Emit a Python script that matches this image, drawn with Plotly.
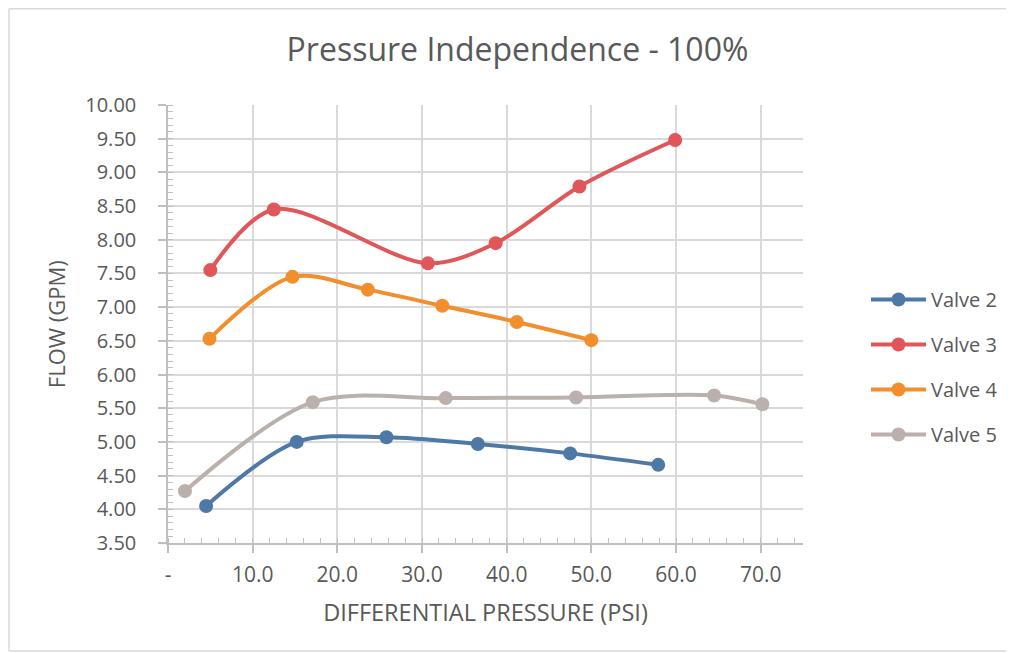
import plotly.graph_objects as go

title = "Pressure Independence - 100%"
x_title = "DIFFERENTIAL PRESSURE (PSI)"
y_title = "FLOW (GPM)"

v2_x = [4.5, 15.2, 25.8, 36.6, 47.5, 57.9]
v2_y = [4.05, 5.00, 5.07, 4.97, 4.83, 4.66]
v3_x = [5.0, 12.5, 30.7, 38.7, 48.6, 59.9]
v3_y = [7.55, 8.45, 7.65, 7.95, 8.79, 9.48]
v4_x = [4.9, 14.7, 23.6, 32.4, 41.2, 50.0]
v4_y = [6.53, 7.45, 7.26, 7.02, 6.78, 6.51]
v5_x = [2.0, 17.1, 32.8, 48.2, 64.5, 70.2]
v5_y = [4.27, 5.59, 5.65, 5.66, 5.69, 5.56]

series = [
    ("Valve 2", v2_x, v2_y, "#4E79A7"),
    ("Valve 3", v3_x, v3_y, "#E15759"),
    ("Valve 4", v4_x, v4_y, "#F28E2B"),
    ("Valve 5", v5_x, v5_y, "#BAB0AC"),
]

x_tickvals = [0, 10, 20, 30, 40, 50, 60, 70]
x_ticktext = ["-", "10.0", "20.0", "30.0", "40.0", "50.0", "60.0", "70.0"]
y_tickvals = [3.5, 4.0, 4.5, 5.0, 5.5, 6.0, 6.5, 7.0, 7.5, 8.0, 8.5, 9.0, 9.5, 10.0]
y_ticktext = ["%.2f" % v for v in y_tickvals]

FONT = "Open Sans"
TXT = "#595959"

fig = go.Figure()
for name, xs, ys, c in series:
    fig.add_trace(go.Scatter(
        x=xs, y=ys, name=name, legendgroup=name, mode="lines+markers",
        line=dict(color=c, width=4, shape="spline", smoothing=0.9),
        marker=dict(color=c, size=14),
    ))

# page is offset by 8px body margin
W, H = 1006, 645
L, R, T, B = 160, 210, 97, 110
pw = W - L - R
ph = H - T - B

fig.update_layout(
    width=W, height=H,
    margin=dict(l=L, r=R, t=T, b=B),
    paper_bgcolor="white", plot_bgcolor="white",
    font=dict(family=FONT, color=TXT, size=20),
    title=dict(text=title, x=509.5 / W, xanchor="center",
               y=1 - 42 / H, yanchor="middle",
               font=dict(size=32, color=TXT, family=FONT)),
    showlegend=True,
    legend=dict(x=(858 - L) / pw, xanchor="left", y=(H - B - 272) / ph, yanchor="top",
                font=dict(size=20, color=TXT), tracegroupgap=16, itemwidth=55,
                bgcolor="rgba(0,0,0,0)"),
    xaxis=dict(
        range=[0, 75], tickvals=x_tickvals, ticktext=x_ticktext,
        showgrid=True, gridcolor="#D9D9D9", gridwidth=1.5,
        showline=True, linecolor="#BFBFBF", linewidth=1.5,
        ticks="outside", ticklen=8, tickcolor="#BFBFBF", tickwidth=1.5,
        minor=dict(dtick=2, ticks="inside", ticklen=5, tickcolor="#BFBFBF", tickwidth=1.2, showgrid=False),
        zeroline=False, ticklabelstandoff=4,
        title=dict(text=x_title, font=dict(size=23.5, color=TXT), standoff=18),
        tickfont=dict(size=21, color=TXT),
    ),
    yaxis=dict(
        range=[3.5, 10.0], tickvals=y_tickvals, ticktext=y_ticktext,
        showgrid=True, gridcolor="#D9D9D9", gridwidth=1.5,
        showline=True, linecolor="#BFBFBF", linewidth=1.5,
        ticks="outside", ticklen=8, tickcolor="#BFBFBF", tickwidth=1.5,
        minor=dict(dtick=0.1, ticks="inside", ticklen=5, tickcolor="#BFBFBF", tickwidth=1.2, showgrid=False),
        zeroline=False, ticklabelstandoff=18,
        tickfont=dict(size=20, color=TXT),
    ),
)

fig.add_annotation(text=y_title, xref="paper", yref="paper",
                   x=(48 - L) / pw, y=0.5, xanchor="center", yanchor="middle",
                   textangle=-90, showarrow=False,
                   font=dict(size=22, color=TXT, family=FONT))

# chart-area frame: left, top and bottom edges (right edge runs off the page)
frame_y_top = (H - B - 0.75) / ph
frame_y_bot = (H - B - 643) / ph
frame_x_left = (0.75 - L) / pw
frame_x_right = (W - L) / pw
for x0, y0, x1, y1 in [
    (frame_x_left, frame_y_bot, frame_x_left, frame_y_top),
    (frame_x_left, frame_y_top, frame_x_right, frame_y_top),
    (frame_x_left, frame_y_bot, frame_x_right, frame_y_bot),
]:
    fig.add_shape(type="line", xref="paper", yref="paper", x0=x0, y0=y0, x1=x1, y1=y1,
                  line=dict(color="#D9D9D9", width=1.5), layer="below")

fig.write_html("out.html")
